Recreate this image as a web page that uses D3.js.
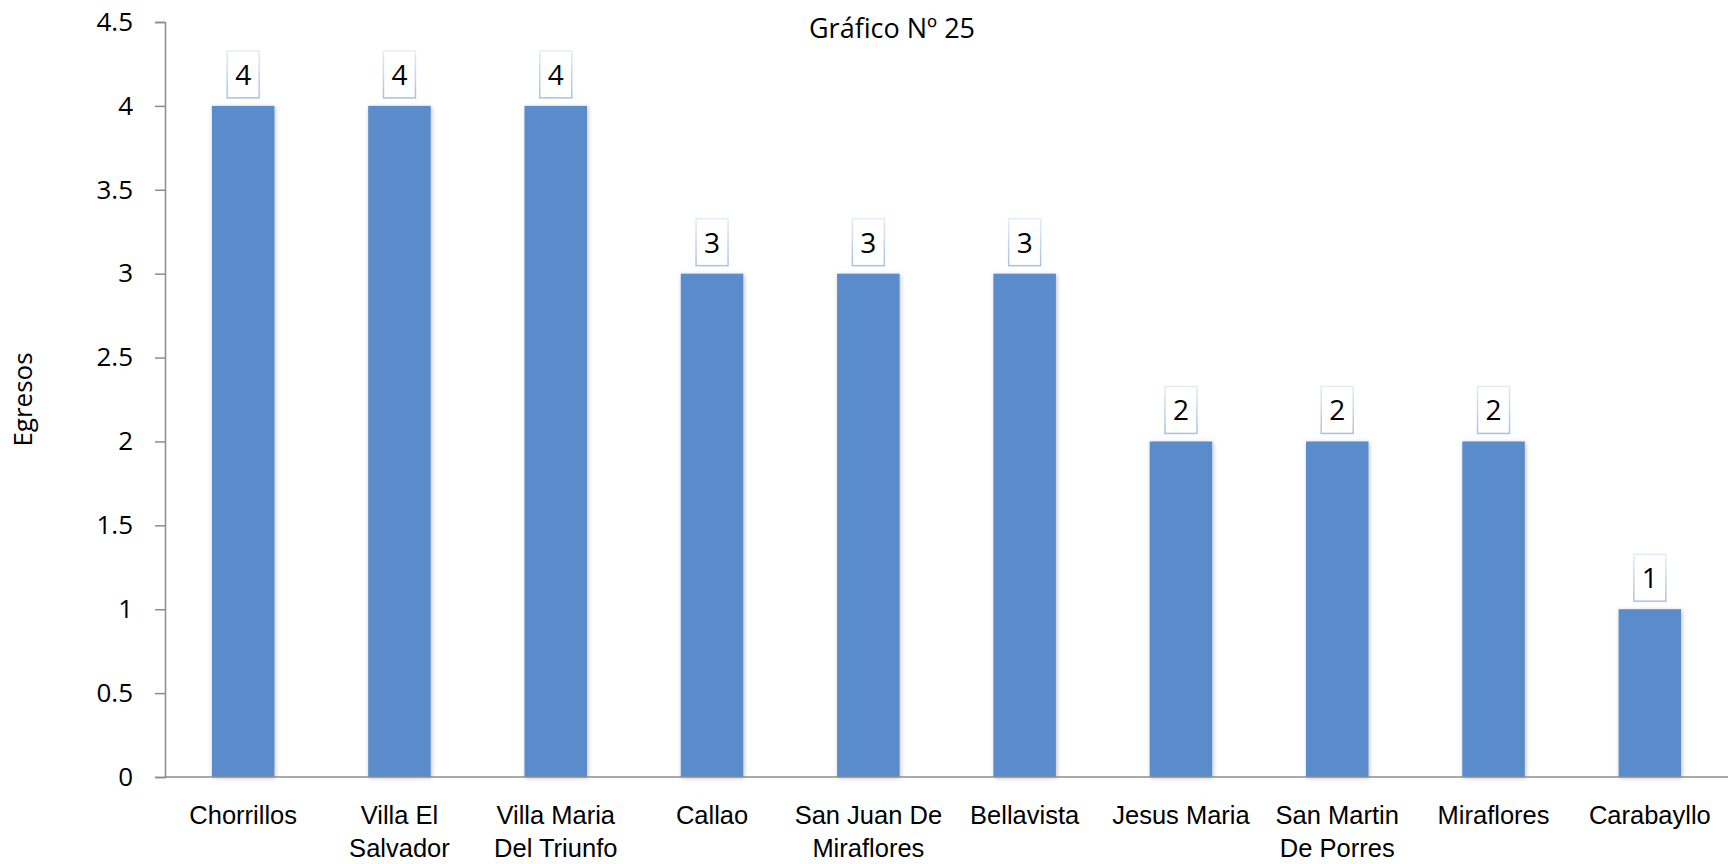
<!DOCTYPE html>
<html>
<head>
<meta charset="utf-8">
<script src="https://cdn.jsdelivr.net/npm/d3@7"></script>
<style>
  html, body { margin: 0; padding: 0; background: #fff; }
  svg { display: block; font-family: "Open Sans", sans-serif; }
</style>
</head>
<body>
<div id="chart"></div>
<script>
// data
const districts = ["Chorrillos", "Villa El\nSalvador", "Villa Maria\nDel Triunfo", "Callao",
  "San Juan De\nMiraflores", "Bellavista", "Jesus Maria", "San Martin\nDe Porres",
  "Miraflores", "Carabayllo"];
const egresos = [4, 4, 4, 3, 3, 3, 2, 2, 2, 1];
const yTicks = [0, 0.5, 1, 1.5, 2, 2.5, 3, 3.5, 4, 4.5];
const title = "Gráfico Nº 25";
const yTitle = "Egresos";

const width = 1728, height = 864;
const margin = { top: 22, right: 0, bottom: 87, left: 165 };

const svg = d3.select("#chart").append("svg")
    .attr("width", width)
    .attr("height", height);

const defs = svg.append("defs");
defs.append("filter")
    .attr("id", "shadow")
    .attr("x", "-20%").attr("width", "140%")
  .append("feDropShadow")
    .attr("dx", 1).attr("dy", 1)
    .attr("stdDeviation", 2)
    .attr("flood-color", "#000")
    .attr("flood-opacity", 0.25);

const boxGrad = defs.append("linearGradient")
    .attr("id", "boxBorder")
    .attr("x1", 0).attr("y1", 0).attr("x2", 0).attr("y2", 1);
boxGrad.append("stop").attr("offset", "0%").attr("stop-color", "#e4ecf7");
boxGrad.append("stop").attr("offset", "100%").attr("stop-color", "#a9c1e3");

const x = d3.scaleBand()
    .domain(districts)
    .range([margin.left, width - margin.right])
    .paddingInner(0.6)
    .paddingOuter(0.3);

const y = d3.scaleLinear()
    .domain([0, 4.5])
    .range([height - margin.bottom, margin.top]);

// bars
svg.append("g")
  .selectAll("rect")
  .data(egresos)
  .join("rect")
    .attr("x", (d, i) => x(districts[i]))
    .attr("y", d => y(d))
    .attr("width", x.bandwidth())
    .attr("height", d => y(0) - y(d))
    .attr("fill", "#5a8bcb")
    .attr("filter", "url(#shadow)");

// y axis
const yAxis = svg.append("g")
    .attr("transform", `translate(${margin.left},0)`)
    .call(d3.axisLeft(y).tickValues(yTicks).tickFormat(d => String(d)).tickSize(10).tickPadding(22));
yAxis.select(".domain").attr("stroke", "#8c8c8c").attr("stroke-width", 1.5);
yAxis.selectAll(".tick line").attr("stroke", "#8c8c8c").attr("stroke-width", 1.5);
yAxis.selectAll(".tick text")
    .attr("font-size", 26)
    .attr("fill", "#000")
    .attr("font-family", "Open Sans, sans-serif");

// x axis
const xAxis = svg.append("g")
    .attr("transform", `translate(0,${y(0)})`)
    .call(d3.axisBottom(x).tickSize(0).tickPadding(0).tickFormat(""));
xAxis.select(".domain")
    .attr("d", `M${margin.left},0H${width}`)
    .attr("stroke", "#8c8c8c").attr("stroke-width", 1.5);
xAxis.selectAll(".tick text").remove();
xAxis.selectAll(".tick").append("text")
    .attr("text-anchor", "middle")
    .attr("font-size", 25.5)
    .attr("fill", "#000")
    .selectAll("tspan")
    .data(d => d.split("\n"))
    .join("tspan")
      .attr("x", 0)
      .attr("y", (d, i) => 47 + i * 33)
      .text(d => d);

// value labels in boxes
const labels = svg.append("g")
  .selectAll("g")
  .data(egresos)
  .join("g")
    .attr("transform", (d, i) => `translate(${x(districts[i]) + x.bandwidth() / 2},${y(d)})`);
labels.append("rect")
    .attr("x", -16)
    .attr("y", -55)
    .attr("width", 32)
    .attr("height", 47)
    .attr("fill", "#fff")
    .attr("stroke", "url(#boxBorder)")
    .attr("stroke-width", 1.5);
labels.append("text")
    .attr("text-anchor", "middle")
    .attr("y", -21)
    .attr("font-size", 28)
    .attr("fill", "#000")
    .text(d => d);

// titles
svg.append("text")
    .attr("x", 892)
    .attr("y", 38)
    .attr("text-anchor", "middle")
    .attr("font-size", 27)
    .attr("fill", "#000")
    .text(title);

svg.append("text")
    .attr("transform", `translate(32,${(y(0) + y(4.5)) / 2}) rotate(-90)`)
    .attr("text-anchor", "middle")
    .attr("font-size", 26)
    .attr("fill", "#000")
    .text(yTitle);
</script>
</body>
</html>
